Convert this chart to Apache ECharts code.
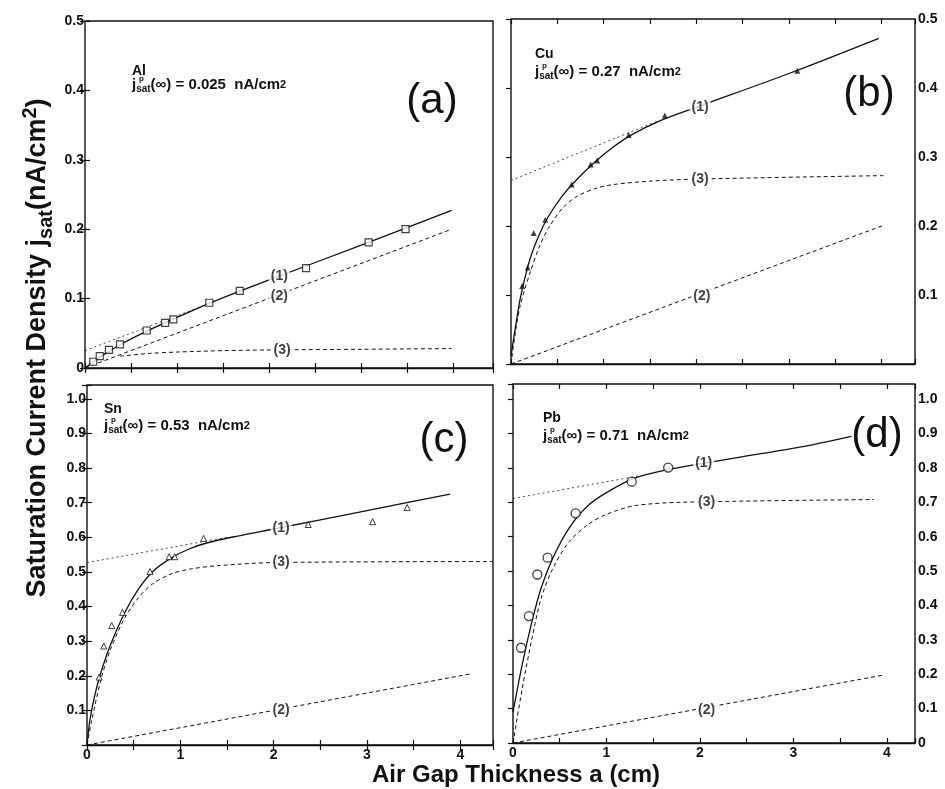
<!DOCTYPE html>
<html>
<head>
<meta charset="utf-8">
<script src="https://cdn.jsdelivr.net/npm/echarts/dist/echarts.min.js"></script>
<style>
  html, body { margin: 0; padding: 0; background: #fff; }
  #chart { width: 945px; height: 789px; }
</style>
</head>
<body>
<div id="chart"></div>
<script>
// ---- data (x: air gap a in cm, y: j_sat in nA/cm2) ----
// (a) Al
const alPoints = [[0.09,0.009],[0.16,0.017],[0.26,0.026],[0.38,0.034],[0.67,0.054],[0.87,0.065],[0.96,0.070],[1.35,0.094],[1.68,0.111],[2.40,0.144],[3.08,0.181],[3.48,0.200]];
const alCurve1 = [[0,0],[0.1,0.01],[0.2,0.019],[0.4,0.035],[0.7,0.055],[1.0,0.073],[1.4,0.096],[2.0,0.127],[3.0,0.177],[3.98,0.227]];
const alLine2 = [[0,0],[3.98,0.2]];
const alCurve3 = [[0.38,0.017],[0.7,0.021],[1.0,0.023],[1.5,0.025],[2.0,0.026],[3.0,0.027],[3.98,0.028]];
const alAsym = [[0,0.025],[1.35,0.093]];
const alTags = [[2.11,0.132,'(1)'],[2.11,0.103,'(2)'],[2.14,0.026,'(3)']];

// (b) Cu
const cuPoints = [[0.12,0.113],[0.18,0.140],[0.245,0.190],[0.37,0.209],[0.655,0.260],[0.86,0.289],[0.93,0.295],[1.27,0.332],[1.66,0.360],[3.09,0.425]];
const cuCurve1 = [[0,0.012],[0.05,0.055],[0.1,0.095],[0.2,0.15],[0.3,0.186],[0.4,0.213],[0.55,0.243],[0.7,0.266],[0.9,0.292],[1.1,0.314],[1.3,0.332],[1.6,0.352],[2.0,0.372],[3.0,0.421],[3.97,0.472]];
const cuLine2 = [[0,0],[4.02,0.201]];
const cuCurve3 = [[0,0],[0.05,0.048],[0.1,0.085],[0.2,0.13],[0.3,0.168],[0.4,0.196],[0.55,0.225],[0.7,0.242],[0.9,0.254],[1.1,0.26],[1.5,0.265],[2.0,0.268],[4.02,0.273]];
const cuAsym = [[0,0.266],[1.6,0.353]];
const cuTags = [[2.04,0.372,'(1)'],[2.06,0.099,'(2)'],[2.04,0.268,'(3)']];

// (c) Sn
const snPoints = [[0.13,0.196],[0.18,0.286],[0.265,0.345],[0.38,0.383],[0.675,0.501],[0.88,0.544],[0.94,0.544],[1.25,0.597],[2.37,0.637],[3.06,0.645],[3.43,0.686]];
const snCurve1 = [[0,0],[0.03,0.07],[0.08,0.14],[0.15,0.21],[0.25,0.288],[0.4,0.38],[0.55,0.45],[0.7,0.5],[0.9,0.54],[1.1,0.567],[1.3,0.585],[1.6,0.603],[2.0,0.624],[3.0,0.677],[3.89,0.725]];
const snLine2 = [[0,0],[4.1,0.205]];
const snCurve3 = [[0,0],[0.05,0.07],[0.15,0.19],[0.25,0.275],[0.4,0.365],[0.55,0.425],[0.7,0.465],[0.9,0.494],[1.1,0.508],[1.4,0.518],[2.0,0.527],[4.35,0.53]];
const snAsym = [[0,0.527],[1.5,0.6]];
const snTags = [[2.08,0.626,'(1)'],[2.08,0.101,'(2)'],[2.08,0.527,'(3)']];

// (d) Pb
const pbPoints = [[0.086,0.277],[0.17,0.369],[0.26,0.490],[0.37,0.539],[0.67,0.668],[1.27,0.760],[1.66,0.801]];
const pbCurve1 = [[0,0.09],[0.1,0.23],[0.2,0.35],[0.3,0.45],[0.43,0.54],[0.6,0.625],[0.8,0.69],[1.0,0.728],[1.3,0.77],[1.7,0.797],[2.4,0.83],[3.1,0.862],[3.62,0.892]];
const pbLine2 = [[0,0],[3.97,0.198]];
const pbCurve3 = [[0,0],[0.1,0.16],[0.2,0.3],[0.3,0.42],[0.43,0.51],[0.6,0.585],[0.8,0.635],[1.0,0.665],[1.3,0.69],[1.8,0.7],[3.86,0.708]];
const pbAsym = [[0,0.711],[1.35,0.777]];
const pbTags = [[2.04,0.815,'(1)'],[2.07,0.096,'(2)'],[2.07,0.700,'(3)']];

const FONT = "'Liberation Sans', Arial, Helvetica, sans-serif";
const INK = '#111';

// grid boxes in px
const panels = [
  { box: { left: 85, top: 21, width: 408, height: 347 }, xMax: 4.43, yMax: 0.5, ySide: 'left', mirrorY: true, showX: false, zeroY: true,
    points: alPoints, c1: alCurve1, l2: alLine2, c3: alCurve3, asym: alAsym, tags: alTags,
    marker: { symbol: 'rect', symbolSize: 7, itemStyle: { color: '#fff', borderColor: INK, borderWidth: 1.2 } } },
  { box: { left: 511, top: 19, width: 404, height: 345 }, xMax: 4.36, yMax: 0.5, ySide: 'right', mirrorY: false, showX: false, zeroY: false,
    points: cuPoints, c1: cuCurve1, l2: cuLine2, c3: cuCurve3, asym: cuAsym, tags: cuTags,
    marker: { symbol: 'triangle', symbolSize: 6, itemStyle: { color: INK } } },
  { box: { left: 87, top: 385, width: 406, height: 360 }, xMax: 4.35, yMax: 1.04, ySide: 'left', mirrorY: true, showX: true, zeroY: false,
    points: snPoints, c1: snCurve1, l2: snLine2, c3: snCurve3, asym: snAsym, tags: snTags,
    marker: { symbol: 'triangle', symbolSize: 6, itemStyle: { color: '#fff', borderColor: INK, borderWidth: 1 } } },
  { box: { left: 513, top: 384, width: 402, height: 359 }, xMax: 4.30, yMax: 1.044, ySide: 'right', mirrorY: false, showX: true, zeroY: true,
    points: pbPoints, c1: pbCurve1, l2: pbLine2, c3: pbCurve3, asym: pbAsym, tags: pbTags,
    marker: { symbol: 'circle', symbolSize: 9, itemStyle: { color: '#fff', borderColor: INK, borderWidth: 1.3 } } }
];

const tickStyle = { show: true, inside: true, length: 5, lineStyle: { color: INK, width: 1.2 } };
const labelFont = { color: INK, fontFamily: FONT, fontWeight: 'bold', fontSize: 14 };

function yFormatter(showZero) {
  return function (v) {
    if (Math.abs(v * 10 - Math.round(v * 10)) > 1e-6) return '';
    if (Math.abs(v) < 1e-9) return showZero ? '0' : '';
    return v.toFixed(1);
  };
}
function xFormatter(v) {
  return Math.abs(v - Math.round(v)) < 1e-6 ? String(Math.round(v)) : '';
}

const grids = [], xAxes = [], yAxes = [], series = [];

panels.forEach(function (p, i) {
  grids.push(Object.assign({ show: true, borderColor: INK, borderWidth: 1.4, backgroundColor: 'transparent' }, p.box));

  const xi = xAxes.length;
  xAxes.push({
    gridIndex: i, type: 'value', min: 0, max: p.xMax, interval: 0.5, position: 'bottom',
    axisLine: { show: true, lineStyle: { color: INK, width: 1.4 } },
    axisTick: tickStyle, splitLine: { show: false },
    axisLabel: Object.assign({ show: p.showX, margin: 3, interval: 0, hideOverlap: false, formatter: xFormatter }, labelFont)
  });
  xAxes.push({
    gridIndex: i, type: 'value', min: 0, max: p.xMax, interval: 0.5, position: 'top',
    axisLine: { show: false }, axisTick: tickStyle, splitLine: { show: false }, axisLabel: { show: false }
  });

  const yi = yAxes.length;
  yAxes.push({
    gridIndex: i, type: 'value', min: 0, max: p.yMax, interval: 0.1, position: p.ySide,
    axisLine: { show: false }, axisTick: tickStyle, splitLine: { show: false },
    axisLabel: Object.assign({ margin: p.ySide === 'left' ? 1 : 3, interval: 0, hideOverlap: false, formatter: yFormatter(p.zeroY) }, labelFont)
  });
  if (p.mirrorY) {
    yAxes.push({
      gridIndex: i, type: 'value', min: 0, max: p.yMax, interval: 0.1, position: 'right',
      axisLine: { show: false }, axisTick: tickStyle, splitLine: { show: false }, axisLabel: { show: false }
    });
  }

  const base = { xAxisIndex: xi, yAxisIndex: yi, silent: true };
  series.push(Object.assign({
    type: 'line', data: p.asym, showSymbol: false,
    lineStyle: { color: '#333', width: 0.9, type: [2, 3] }, z: 2
  }, base));
  series.push(Object.assign({
    type: 'line', data: p.l2, showSymbol: false,
    lineStyle: { color: INK, width: 1, type: [4, 3] }, z: 2
  }, base));
  series.push(Object.assign({
    type: 'line', data: p.c3, showSymbol: false, smooth: 0.3,
    lineStyle: { color: INK, width: 1, type: [4, 3] }, z: 2
  }, base));
  series.push(Object.assign({
    type: 'line', data: p.c1, showSymbol: false, smooth: 0.3,
    lineStyle: { color: INK, width: 1.3 }, z: 3
  }, base));
  series.push(Object.assign({
    type: 'scatter', data: p.points, z: 4
  }, p.marker, base));
  series.push(Object.assign({
    type: 'scatter', symbolSize: 0, z: 5,
    data: p.tags.map(function (t) { return { value: [t[0], t[1]], name: t[2] }; }),
    label: {
      show: true, position: 'inside', formatter: '{b}', color: INK, fontFamily: FONT,
      fontWeight: 'bold', fontSize: 14, backgroundColor: '#fff', padding: [1, 2]
    }
  }, base));
});

// material notes and panel letters
const notes = [
  { name: 'Al', value: '0.025', x: 132, y1: 71, y2: 85 },
  { name: 'Cu', value: '0.27', x: 535, y1: 54, y2: 72 },
  { name: 'Sn', value: '0.53', x: 104, y1: 409, y2: 426 },
  { name: 'Pb', value: '0.71', x: 543, y1: 418, y2: 436 }
];
const letters = [
  { text: '(a)', x: 432, y: 101 },
  { text: '(b)', x: 869, y: 94 },
  { text: '(c)', x: 444, y: 440 },
  { text: '(d)', x: 877, y: 435 }
];

const graphics = [];
notes.forEach(function (n) {
  graphics.push({ type: 'text', x: n.x, y: n.y1, z: 10,
    style: { text: n.name, font: 'bold 14px ' + FONT, fill: INK, align: 'left', verticalAlign: 'middle' } });
  graphics.push({ type: 'text', x: n.x, y: n.y2, z: 10,
    style: {
      text: '{j|j}{s|sat}{t|(\u221e) = ' + n.value + '  nA/cm}{e|2}',
      align: 'left', verticalAlign: 'middle', fill: INK,
      rich: {
        j: { fontFamily: FONT, fontSize: 15, fontWeight: 'bold', lineHeight: 18, fill: INK },
        s: { fontFamily: FONT, fontSize: 10, fontWeight: 'bold', lineHeight: 11, verticalAlign: 'bottom', fill: INK },
        t: { fontFamily: FONT, fontSize: 15, fontWeight: 'bold', lineHeight: 18, fill: INK },
        e: { fontFamily: FONT, fontSize: 11, fontWeight: 'bold', lineHeight: 16, verticalAlign: 'middle', fill: INK }
      }
    } });
  graphics.push({ type: 'text', x: n.x + 7, y: n.y2 - 6, z: 10,
    style: { text: 'p', font: 'bold 8px ' + FONT, fill: INK, align: 'left', verticalAlign: 'middle' } });
});
letters.forEach(function (l) {
  graphics.push({ type: 'text', x: l.x, y: l.y, z: 10,
    style: { text: l.text, font: '42px ' + FONT, fill: INK, align: 'center', verticalAlign: 'middle' } });
});
graphics.push({ type: 'text', x: 38, y: 348, rotation: Math.PI / 2, z: 10,
  style: {
    text: '{m|Saturation Current Density j}{s|sat}{m|(nA/cm}{u|2}{m|)}',
    align: 'center', verticalAlign: 'middle', fill: INK,
    rich: {
      m: { fontFamily: FONT, fontWeight: 'bold', fontSize: 27, lineHeight: 36, fill: INK },
      s: { fontFamily: FONT, fontWeight: 'bold', fontSize: 20, lineHeight: 21, verticalAlign: 'bottom', fill: INK },
      u: { fontFamily: FONT, fontWeight: 'bold', fontSize: 20, lineHeight: 19, verticalAlign: 'top', fill: INK }
    }
  } });
graphics.push({ type: 'text', x: 516, y: 775, z: 10,
  style: { text: 'Air Gap Thickness a (cm)', font: 'bold 24px ' + FONT, fill: INK, align: 'center', verticalAlign: 'middle' } });

const chart = echarts.init(document.getElementById('chart'), null, { renderer: 'canvas' });
chart.setOption({
  animation: false,
  backgroundColor: '#fff',
  grid: grids,
  xAxis: xAxes,
  yAxis: yAxes,
  series: series,
  graphic: graphics
});
</script>
</body>
</html>
